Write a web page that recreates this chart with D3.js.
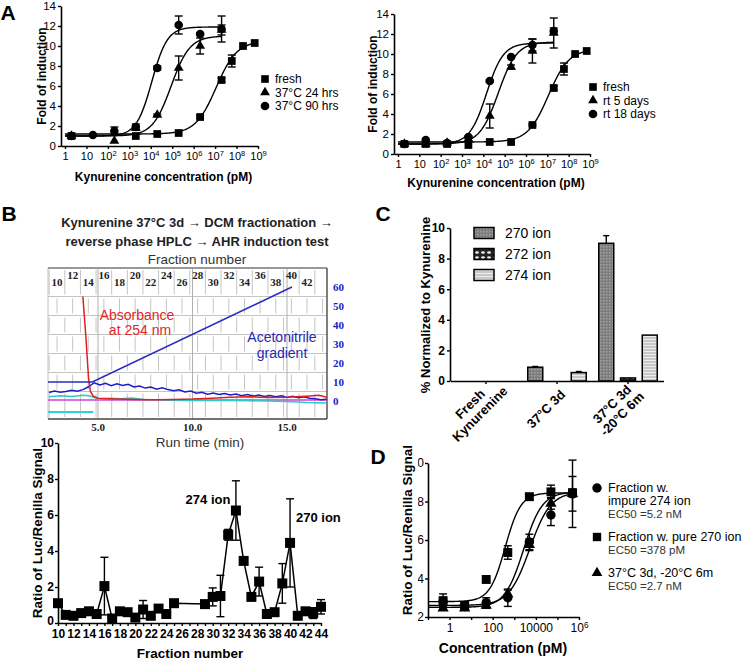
<!DOCTYPE html>
<html><head><meta charset="utf-8">
<script src="https://cdnjs.cloudflare.com/ajax/libs/d3/7.8.5/d3.min.js"></script>
<style>
body{margin:0;background:#fff;}
svg{display:block;}
</style></head>
<body><svg id="chart" width="745" height="659"></svg>
<script>
// ====================== DATA ======================
// Panel A – tick values
const aXTicks = [1, 10, 1e2, 1e3, 1e4, 1e5, 1e6, 1e7, 1e8, 1e9];
const aYTicks = [0, 2, 4, 6, 8, 10, 12, 14];
// Panel A left (37 °C)
const aLLegend = ["fresh", "37°C 24 hrs", "37°C 90 hrs"];
const aLFreshX = [2, 2e3, 2e4, 2e5, 2e6, 2e7, 6e7, 2e8, 7e8];
const aLFreshY = [1.0, 1.0, 1.2, 1.3, 2.9, 6.6, 8.5, 10.0, 10.3];
const aLFreshE = [0, 0, 0, 0, 0.15, 0.2, 0.6, 0, 0];
const aLH24X = [2, 200, 2e3, 2e4, 2e5, 2e6, 2e7];
const aLH24Y = [1.0, 0.5, 1.8, 3.1, 7.8, 10.0, 11.6];
const aLH24E = [0, 0, 0.2, 0.1, 1.2, 0.8, 0.5];
const aLH90X = [2, 20, 200, 2e3, 2e4, 2e5, 2e6, 2e7];
const aLH90Y = [1.0, 1.1, 1.5, 1.9, 7.8, 12.1, 11.2, 11.7];
const aLH90E = [0, 0, 0.4, 0.3, 0.2, 0.9, 0.1, 1.3];
// fit parameters: bottom, top, logEC50, hill
const aLFreshFit = [1.2, 10.5, 7.05, 0.9];
const aLH24Fit = [1.0, 11.0, 4.95, 1.0];
const aLH90Fit = [1.0, 11.9, 4.05, 1.2];
// Panel A right (room temperature)
const aRLegend = ["fresh", "rt 5 days", "rt 18 days"];
const aRFreshX = [2, 20, 200, 2e3, 2e4, 2e5, 2e6, 2e7, 6e7, 2e8, 7e8];
const aRFreshY = [1.0, 1.0, 1.0, 0.9, 1.2, 1.2, 2.9, 6.6, 8.5, 10.0, 10.3];
const aRFreshE = [0, 0, 0, 0, 0, 0, 0.1, 0.2, 0.6, 0, 0];
const aRD5X = [2, 20, 200, 2e3, 2e4, 2e5, 2e6, 2e7];
const aRD5Y = [1.0, 1.0, 1.1, 1.5, 3.8, 8.7, 10.3, 12.1];
const aRD5E = [0, 0, 0.1, 0.2, 1.2, 0.2, 1.2, 1.5];
const aRD18X = [2, 20, 200, 2e3, 2e4, 2e5, 2e6, 2e7];
const aRD18Y = [1.0, 1.4, 1.1, 1.7, 7.3, 9.7, 10.9, 12.3];
const aRD18E = [0, 0, 0, 0.1, 0.1, 0.1, 0.6, 0.3];
const aRFreshFit = [1.2, 10.5, 7.05, 0.9];
const aRD5Fit = [1.0, 11.2, 4.7, 1.0];
const aRD18Fit = [1.0, 11.1, 4.15, 1.1];

// Panel B top – HPLC trace (time in min, signal in % acetonitrile units)
const hplcFractions = [10, 12, 14, 16, 18, 20, 22, 24, 26, 28, 30, 32, 34, 36, 38, 40, 42];
const hplcRightTicks = [0, 10, 20, 30, 40, 50, 60];
const hplcTimeTicks = [5, 10, 15];
const gradT = [2.35, 4.7, 15.26];
const gradV = [10, 10, 60];
const absT = [4.2, 4.35, 4.5, 4.6, 4.75, 5.0, 5.5, 6.0, 7.0, 8.0, 9.0, 10.0, 11.0, 12.0, 13.0, 14.0, 15.0, 16.0, 16.7, 17.1];
const absV = [55, 35, 12, 5, 2.5, 1.5, 1.2, 1.0, 0.8, 0.6, 0.8, 1.0, 1.5, 2.0, 2.2, 1.8, 2.0, 2.5, 3.0, 2.0];
const blueT = [2.4,2.7,3.0,3.3,3.6,3.9,4.2,4.5,4.8,5.1,5.4,5.7,6.0,6.3,6.6,6.9,7.2,7.5,7.8,8.1,8.4,8.7,9.0,9.3,9.6,9.9,10.2,10.5,10.8,11.1,11.4,11.7,12.0,12.3,12.6,12.9,13.2,13.5,13.8,14.1,14.4,14.7,15.0,15.3,15.6,15.9,16.2,16.5,16.8,17.1];
const blueV = [4.5,5.2,4.6,5.0,5.6,5.1,6.0,7.5,9.6,8.4,9.3,8.1,9.0,8.2,8.8,7.4,7.9,6.8,7.3,6.2,6.9,6.0,5.4,5.9,4.8,5.2,4.1,4.6,3.6,4.2,3.4,3.9,3.2,3.7,2.8,3.4,2.6,3.1,2.4,2.9,2.2,2.7,1.9,2.5,1.7,2.2,1.5,1.2,0.6,0.9];
const cyanT = [2.4,3.0,3.6,4.2,4.6,5.0,5.6,6.2,6.8,7.4,8.0,9,10,11,12,13,14,15,16,17.1];
const cyanV = [2.2,2.8,2.4,3.0,2.6,1.0,1.5,1.2,1.6,0.8,0.6,0.4,0.3,0.3,0.2,0.1,0,-0.3,-0.8,-1.0];
const magT = [2.35, 17.1];
const magV = [0.5, 0.5];
const cyanBarT = [2.35, 4.75];
const cyanBarV = [-5.8, -5.8];

// Panel B bottom – AHR induction per fraction
const bFrac = [10,11,12,13,14,15,16,17,18,19,20,21,22,23,24,25,29,30,31,32,33,34,35,36,37,38,39,40,41,42,43,44];
const bVal  = [1.1,0.45,0.4,0.55,0.65,0.5,2.05,0.25,0.65,0.6,0.3,0.75,0.4,0.8,0.5,1.1,1.05,1.45,1.5,4.9,6.25,3.45,1.45,2.3,0.5,0.6,2.2,4.45,0.4,0.65,0.55,0.9];
const bErr  = [0,0,0,0,0,0,1.6,0,0,0,0,0.5,0,0,0,0,0,0.5,1.15,0.3,1.65,0,0,0.8,0,0,1.1,2.45,0,0.2,0.3,0.4];
const bYTicks = [0, 2, 4, 6, 8, 10];

// Panel C – ions normalized to kynurenine
const cCats = ["Fresh Kynurenine", "37°C 3d", "37°C 3d, -20°C 6m"];
const cCatLines = [["Fresh", "Kynurenine"], ["37°C 3d"], ["37°C 3d", "-20°C 6m"]];
const cIons = ["270 ion", "272 ion", "274 ion"];
const c270 = [0, 0.9, 9.0];
const c270E = [0, 0.05, 0.5];
const c272 = [0, 0, 0.2];
const c272E = [0, 0, 0];
const c274 = [0, 0.55, 3.0];
const c274E = [0, 0.07, 0];
const cYTicks = [0, 2, 4, 6, 8, 10];

// Panel D – dose response of fractions
const dX = [0.5, 5, 50, 500, 5000, 50000, 500000];
const dImpY = [2.8, 2.55, 2.75, 3.0, 5.9, 7.3, 8.4];
const dImpE = [0.4, 0.1, 0.25, 0.45, 0.4, 0.55, 1.75];
const dPureY = [2.85, 2.6, 3.95, 5.35, 8.25, 8.5, 8.45];
const dPureE = [0.15, 0.1, 0, 0.35, 0.15, 0.35, 0.2];
const dMixY = [2.45, 2.45, 2.6, 3.2, 5.75, 7.9, 8.4];
const dMixE = [0.1, 0.1, 0.15, 0.2, 0.3, 0.3, 0.9];
const dImpFit = [2.6, 8.5, 3.72, 0.9];
const dPureFit = [2.8, 8.45, 2.58, 1.2];
const dMixFit = [2.5, 8.5, 3.43, 1.0];
const dXTicks = [1, 100, 10000, 1e6];
const dXMinor = [0.1, 10, 1000, 100000];
const dYTicks = [2, 4, 6, 8, 10];
const dLegend = [
  ["Fraction w.", "impure 274 ion", "EC50 =5.2 nM"],
  ["Fraction w. pure 270 ion", "EC50 =378 pM"],
  ["37°C 3d, -20°C 6m", "EC50 =2.7 nM"]
];

// ====================== HELPERS ======================
const FONT = "'Liberation Sans', Arial, Helvetica, sans-serif";
const SERIF = "'Liberation Serif', 'Times New Roman', serif";
const svg = d3.select("#chart").attr("font-family", FONT);

function styleAxis(g, fs, fw) {
  g.select(".domain").attr("stroke", "#000").attr("stroke-width", 1.6);
  g.selectAll(".tick line").attr("stroke", "#000").attr("stroke-width", 1.4);
  g.selectAll(".tick text").attr("font-size", fs).attr("font-weight", fw || "normal")
    .attr("font-family", FONT).attr("fill", "#000");
}
function supTicks(g) {
  g.selectAll(".tick text").each(function (d) {
    const e = Math.round(Math.log10(d));
    const t = d3.select(this);
    if (e < 2) { t.text(e === 0 ? "1" : "10"); return; }
    t.text(null);
    t.append("tspan").text("10");
    t.append("tspan").attr("dy", "-0.45em").attr("font-size", "0.68em").text(e);
  });
}
function label(x, y, txt, opt, parent) {
  opt = opt || {};
  const t = (parent || svg).append("text").attr("x", x).attr("y", y).text(txt)
    .attr("font-size", opt.fs || 12).attr("font-weight", opt.fw || "normal")
    .attr("text-anchor", opt.anchor || "middle").attr("dominant-baseline", "central")
    .attr("fill", opt.fill || "#000").attr("font-family", opt.ff || FONT);
  if (opt.rot) t.attr("transform", `rotate(${opt.rot},${x},${y})`);
  return t;
}
function errBars(g, xs, ys, es, x, y, cap) {
  xs.forEach((xv, i) => {
    if (!(es[i] > 0)) return;
    const X = x(xv), y1 = y(ys[i] - es[i]), y2 = y(ys[i] + es[i]);
    g.append("line").attr("x1", X).attr("x2", X).attr("y1", y1).attr("y2", y2).attr("stroke", "#000").attr("stroke-width", 1.4);
    [y1, y2].forEach(yy => g.append("line").attr("x1", X - cap).attr("x2", X + cap).attr("y1", yy).attr("y2", yy).attr("stroke", "#000").attr("stroke-width", 1.4));
  });
}
function markers(g, xs, ys, x, y, type, size) {
  g.selectAll(null).data(xs.map((v, i) => [v, ys[i]])).join("path")
    .attr("d", d3.symbol().type(type).size(size)())
    .attr("transform", d => `translate(${x(d[0])},${y(d[1])})`).attr("fill", "#000");
}
function fitCurve(g, p, x, y, x0, x1) {
  const f = v => p[0] + (p[1] - p[0]) / (1 + Math.pow(10, (p[2] - Math.log10(v)) * p[3]));
  const l0 = Math.log10(x0), l1 = Math.log10(x1);
  const pts = d3.range(0, 241).map(i => Math.pow(10, l0 + (l1 - l0) * i / 240));
  g.append("path").attr("d", d3.line().x(v => x(v)).y(v => y(f(v)))(pts))
    .attr("fill", "none").attr("stroke", "#000").attr("stroke-width", 1.4);
}

// ====================== PANEL LETTERS ======================
label(8, 12, "A", { fs: 21, fw: "bold" });
label(9, 213, "B", { fs: 21, fw: "bold" });
label(383, 213, "C", { fs: 21, fw: "bold" });
label(378, 456, "D", { fs: 21, fw: "bold" });

// ====================== PANEL A ======================
function panelA(o) {
  const g = svg.append("g");
  const x = d3.scaleLog().domain([0.65, 1e9]).range([o.x0, o.x1]);
  const y = d3.scaleLinear().domain([0, 14]).range([o.yb, o.yt]);
  const gx = g.append("g").attr("transform", `translate(0,${o.yb})`)
    .call(d3.axisBottom(x).tickValues(aXTicks).tickSize(3).tickPadding(3).tickSizeOuter(0));
  styleAxis(gx, 11); supTicks(gx);
  const gy = g.append("g").attr("transform", `translate(${o.x0},0)`)
    .call(d3.axisLeft(y).tickValues(aYTicks).tickSize(3).tickPadding(2).tickSizeOuter(0));
  styleAxis(gy, 11.5);
  fitCurve(g, o.fit[0], x, y, 1, 7e8);
  fitCurve(g, o.fit[1], x, y, 1, 2e7);
  fitCurve(g, o.fit[2], x, y, 1, 2e7);
  errBars(g, o.s[0][0], o.s[0][1], o.s[0][2], x, y, 4);
  errBars(g, o.s[1][0], o.s[1][1], o.s[1][2], x, y, 4);
  errBars(g, o.s[2][0], o.s[2][1], o.s[2][2], x, y, 4);
  markers(g, o.s[0][0], o.s[0][1], x, y, d3.symbolSquare, 60);
  markers(g, o.s[1][0], o.s[1][1], x, y, d3.symbolTriangle, 42);
  markers(g, o.s[2][0], o.s[2][1], x, y, d3.symbolCircle, 58);
  label((o.x0 + o.x1) / 2 + 4, o.xt, "Kynurenine concentration (pM)", { fs: 12, fw: "bold" });
  label(o.yTitleX, (o.yb + o.yt) / 2, "Fold of induction", { fs: 12, fw: "bold", rot: -90 });
  const types = [d3.symbolSquare, d3.symbolTriangle, d3.symbolCircle];
  o.legend.forEach((t, i) => {
    const ly = o.ly + i * 13.5;
    g.append("path").attr("d", d3.symbol().type(types[i]).size(i === 1 ? 42 : 58)())
      .attr("transform", `translate(${o.lx},${ly})`).attr("fill", "#000");
    label(o.lx + 10, ly, t, { fs: 12, anchor: "start" });
  });
}
panelA({ x0: 61, x1: 258, yb: 146, yt: 6, xt: 177, yTitleX: 42, lx: 265, ly: 79,
  legend: aLLegend, fit: [aLFreshFit, aLH24Fit, aLH90Fit],
  s: [[aLFreshX, aLFreshY, aLFreshE], [aLH24X, aLH24Y, aLH24E], [aLH90X, aLH90Y, aLH90E]] });
panelA({ x0: 394, x1: 590, yb: 154, yt: 14, xt: 183, yTitleX: 373, lx: 593, ly: 87,
  legend: aRLegend, fit: [aRFreshFit, aRD5Fit, aRD18Fit],
  s: [[aRFreshX, aRFreshY, aRFreshE], [aRD5X, aRD5Y, aRD5E], [aRD18X, aRD18Y, aRD18E]] });

// ====================== PANEL B (top) HPLC ======================
label(197, 222, "Kynurenine 37°C 3d \u2192 DCM fractionation \u2192", { fs: 13, fw: "bold", fill: "#222" });
label(197, 241, "reverse phase  HPLC \u2192 AHR induction test", { fs: 13, fw: "bold", fill: "#222" });
label(197, 259, "Fraction number", { fs: 13.5, fill: "#333" });
label(200, 442, "Run time (min)", { fs: 13.5, fill: "#333" });
(function () {
  const L = 48, R = 327, T = 268, B = 419;
  const xT = d3.scaleLinear().domain([5, 15]).range([98, 287]);
  const xF = d3.scaleLinear().domain([10, 42]).range([57, 307]);
  const yH = d3.scaleLinear().domain([0, 60]).range([401, 287]);
  const g = svg.append("g");
  const hLines = [55, 45, 35, 25, 15, 5].map(v => yH(v));
  const bands = [T].concat(hLines).concat([B]);
  hLines.forEach(yy => g.append("line").attr("x1", L).attr("x2", R).attr("y1", yy).attr("y2", yy).attr("stroke", "#c4c4c4").attr("stroke-width", 1));
  for (let i = 0; i < bands.length - 1; i++) {
    for (let f = 9 + (i % 2); f <= 45; f += 2) {
      const X = xF(f);
      if (X <= L + 1 || X >= R - 1) continue;
      g.append("line").attr("x1", X).attr("x2", X).attr("y1", bands[i] + 2).attr("y2", bands[i + 1] - 2).attr("stroke", "#c4c4c4").attr("stroke-width", 1);
    }
  }
  hplcTimeTicks.forEach(t => g.append("line").attr("x1", xT(t)).attr("x2", xT(t)).attr("y1", T).attr("y2", B).attr("stroke", "#b0b0b0").attr("stroke-width", 1));
  g.append("line").attr("x1", L).attr("x2", L).attr("y1", T).attr("y2", B).attr("stroke", "#c0c0c0");
  g.append("line").attr("x1", L).attr("x2", R).attr("y1", T).attr("y2", T).attr("stroke", "#999").attr("stroke-width", 2);
  g.append("line").attr("x1", R).attr("x2", R).attr("y1", T).attr("y2", B).attr("stroke", "#555").attr("stroke-width", 1.5);
  g.append("line").attr("x1", L).attr("x2", R).attr("y1", B).attr("y2", B).attr("stroke", "#444").attr("stroke-width", 1.5);
  hplcFractions.forEach((f, i) => {
    label(xF(f), i % 2 === 0 ? 282 : 275, String(f), { fs: 11, fw: "bold", ff: SERIF, fill: "#222" });
  });
  hplcRightTicks.forEach(v => label(333, yH(v), String(v), { fs: 11, fw: "bold", ff: SERIF, fill: "#2020c8", anchor: "start" }));
  hplcTimeTicks.forEach(t => label(xT(t), 427, t.toFixed(1), { fs: 11, fw: "bold", ff: SERIF, fill: "#222" }));
  g.append("clipPath").attr("id", "hclip").append("rect").attr("x", L).attr("y", T).attr("width", R - L).attr("height", B - T);
  const tr = g.append("g").attr("clip-path", "url(#hclip)");
  const line = d3.line().x(d => xT(d[0])).y(d => yH(d[1]));
  const z = (a, b) => a.map((v, i) => [v, b[i]]);
  tr.append("path").attr("d", line(z(magT, magV))).attr("stroke", "#d040d0").attr("stroke-width", 1.5).attr("fill", "none");
  tr.append("path").attr("d", line(z(cyanT, cyanV))).attr("stroke", "#30c8c8").attr("stroke-width", 1.5).attr("fill", "none");
  tr.append("path").attr("d", line(z(cyanBarT, cyanBarV))).attr("stroke", "#30d0e0").attr("stroke-width", 2).attr("fill", "none");
  tr.append("path").attr("d", line(z(blueT, blueV))).attr("stroke", "#1c1cc8").attr("stroke-width", 1.5).attr("fill", "none");
  tr.append("path").attr("d", line(z(absT, absV))).attr("stroke", "#e02020").attr("stroke-width", 1.5).attr("fill", "none");
  tr.append("path").attr("d", line(z(gradT, gradV))).attr("stroke", "#2a2ac0").attr("stroke-width", 1.5).attr("fill", "none");
  label(137, 315, "Absorbance", { fs: 14, fill: "#e02828" });
  label(140, 330, "at 254 nm", { fs: 14, fill: "#e02828" });
  label(282, 337, "Acetonitrile", { fs: 14, fill: "#2828b0" });
  label(282, 353, "gradient", { fs: 14, fill: "#2828b0" });
})();

// ====================== PANEL B (bottom) ======================
(function () {
  const g = svg.append("g");
  const x = d3.scaleLinear().domain([10, 44]).range([58, 321]);
  const y = d3.scaleLinear().domain([0, 10]).range([623, 443]);
  const gx = g.append("g").attr("transform", "translate(0,623)")
    .call(d3.axisBottom(x).tickValues(d3.range(10, 45)).tickSize(3).tickPadding(3.5).tickSizeOuter(0).tickFormat(d => d % 2 === 0 ? d : ""));
  styleAxis(gx, 12, "bold");
  const gy = g.append("g").attr("transform", "translate(58,0)")
    .call(d3.axisLeft(y).tickValues(bYTicks).tickSize(3).tickPadding(1).tickSizeOuter(0));
  styleAxis(gy, 12, "bold");
  gy.selectAll(".tick text").filter(d => d === 0).attr("dy", "0.15em");
  g.append("path").attr("d", d3.line().x(d => x(d[0])).y(d => y(d[1]))(bFrac.map((f, i) => [f, bVal[i]])))
    .attr("fill", "none").attr("stroke", "#000").attr("stroke-width", 1.5);
  errBars(g, bFrac, bVal, bErr, x, y, 4);
  markers(g, bFrac, bVal, x, y, d3.symbolSquare, 100);
  label(190, 653, "Fraction number", { fs: 13.5, fw: "bold" });
  label(37, 533, "Ratio of Luc/Renilla Signal", { fs: 13.5, fw: "bold", rot: -90 });
  label(208, 499, "274 ion", { fs: 13, fw: "bold" });
  label(296, 517, "270 ion", { fs: 13, fw: "bold", anchor: "start" });
})();

// ====================== PANEL C ======================
(function () {
  const g = svg.append("g");
  const defs = svg.append("defs");
  const p1 = defs.append("pattern").attr("id", "p270").attr("width", 3).attr("height", 3).attr("patternUnits", "userSpaceOnUse");
  p1.append("rect").attr("width", 3).attr("height", 3).attr("fill", "#7c7c7c");
  p1.append("rect").attr("width", 1.5).attr("height", 1.5).attr("fill", "#a4a4a4");
  const p2 = defs.append("pattern").attr("id", "p272").attr("width", 6).attr("height", 5).attr("patternUnits", "userSpaceOnUse");
  p2.append("rect").attr("width", 6).attr("height", 5).attr("fill", "#222");
  p2.append("ellipse").attr("cx", 3).attr("cy", 2.5).attr("rx", 1.9).attr("ry", 1.3).attr("fill", "#eee");
  const p3 = defs.append("pattern").attr("id", "p274").attr("width", 4).attr("height", 3).attr("patternUnits", "userSpaceOnUse");
  p3.append("rect").attr("width", 4).attr("height", 3).attr("fill", "#c8c8c8");
  p3.append("rect").attr("width", 4).attr("height", 1).attr("fill", "#ececec");
  const fills = ["url(#p270)", "url(#p272)", "url(#p274)"];

  const x0 = d3.scaleBand().domain(cCats).range([450.5, 663.5]);
  const x1 = d3.scaleBand().domain(cIons).range([-29.25, 29.25]).paddingInner(0.31);
  const y = d3.scaleLinear().domain([0, 10]).range([381, 228]);
  const gy = g.append("g").attr("transform", "translate(450,0)")
    .call(d3.axisLeft(y).tickValues(cYTicks).tickSize(3).tickPadding(2).tickSizeOuter(0));
  styleAxis(gy, 12, "bold");
  const gx = g.append("g").attr("transform", "translate(0,381)")
    .call(d3.axisBottom(x0).tickSize(3).tickSizeOuter(0).tickFormat(""));
  styleAxis(gx, 12, "bold");
  const series = [[c270, c270E], [c272, c272E], [c274, c274E]];
  series.forEach((s, k) => {
    cCats.forEach((c, i) => {
      const v = s[0][i];
      if (!(v > 0)) return;
      const cx = x0(c) + x0.bandwidth() / 2 + x1(cIons[k]);
      g.append("rect").attr("x", cx).attr("y", y(v)).attr("width", x1.bandwidth()).attr("height", y(0) - y(v))
        .attr("fill", fills[k]).attr("stroke", "#000").attr("stroke-width", 1.5);
      if (s[1][i] > 0) {
        const X = cx + x1.bandwidth() / 2;
        g.append("line").attr("x1", X).attr("x2", X).attr("y1", y(v)).attr("y2", y(v + s[1][i])).attr("stroke", "#000").attr("stroke-width", 1.4);
        g.append("line").attr("x1", X - 3).attr("x2", X + 3).attr("y1", y(v + s[1][i])).attr("y2", y(v + s[1][i])).attr("stroke", "#000").attr("stroke-width", 1.4);
      }
    });
  });
  cCats.forEach((c, i) => {
    const cx = x0(c) + x0.bandwidth() / 2 - 11, cy = 409;
    const lines = cCatLines[i];
    const tg = g.append("g").attr("transform", `translate(${cx},${cy}) rotate(-45)`);
    lines.forEach((t, j) => {
      tg.append("text").attr("x", 0).attr("y", (j - (lines.length - 1) / 2) * 14)
        .attr("text-anchor", "middle").attr("dominant-baseline", "central")
        .attr("font-size", 13).attr("font-weight", "bold").text(t);
    });
  });
  cIons.forEach((t, k) => {
    const ly = 233 + k * 21;
    g.append("rect").attr("x", 474).attr("y", ly - 5.5).attr("width", 20).attr("height", 11)
      .attr("fill", fills[k]).attr("stroke", "#000").attr("stroke-width", 1.5);
    label(505, ly, t, { fs: 14, anchor: "start" });
  });
  label(425, 305, "% Normalized to Kynurenine", { fs: 13, fw: "bold", rot: -90 });
})();

// ====================== PANEL D ======================
(function () {
  const g = svg.append("g");
  const x = d3.scaleLog().domain([0.1, 1e6]).range([428, 579]);
  const y = d3.scaleLinear().domain([2, 10]).range([617, 463]);
  svg.append("clipPath").attr("id", "dclip").append("rect").attr("x", 418).attr("y", 440).attr("width", 40).attr("height", 200);
  const gx = g.append("g").attr("transform", "translate(0,617)")
    .call(d3.axisBottom(x).tickValues(dXTicks.concat(dXMinor)).tickSize(3).tickPadding(3).tickSizeOuter(0)
      .tickFormat(d => dXTicks.includes(d) ? (d < 1e6 ? String(d) : "") : ""));
  styleAxis(gx, 12);
  gx.selectAll(".tick text").filter(d => d === 1e6).each(function () {
    const t = d3.select(this);
    t.append("tspan").text("10");
    t.append("tspan").attr("dy", "-0.45em").attr("font-size", "0.68em").text("6");
  });
  const gy = g.append("g").attr("transform", "translate(428,0)")
    .call(d3.axisLeft(y).tickValues(dYTicks).tickSize(3).tickSizeOuter(0).tickFormat(""));
  styleAxis(gy, 12);
  const clipG = svg.append("g").attr("clip-path", "url(#dclip)");
  dYTicks.forEach(v => label(424, y(v), String(v), { fs: 12, anchor: "end" }, clipG));

  fitCurve(g, dImpFit, x, y, 0.1, 5e5);
  fitCurve(g, dPureFit, x, y, 0.1, 5e5);
  fitCurve(g, dMixFit, x, y, 0.1, 5e5);
  errBars(g, dX, dImpY, dImpE, x, y, 4);
  errBars(g, dX, dPureY, dPureE, x, y, 4);
  errBars(g, dX, dMixY, dMixE, x, y, 4);
  markers(g, dX, dMixY, x, y, d3.symbolTriangle, 55);
  markers(g, dX, dImpY, x, y, d3.symbolCircle, 70);
  markers(g, dX, dPureY, x, y, d3.symbolSquare, 80);
  label(503, 648, "Concentration (pM)", { fs: 14, fw: "bold" });
  label(407, 530, "Ratio of Luc/Renilla Signal", { fs: 13.5, fw: "bold", rot: -90 });
  const types = [d3.symbolCircle, d3.symbolSquare, d3.symbolTriangle];
  const sizes = [70, 70, 50];
  const rowY = [488, 537, 573];
  dLegend.forEach((lines, i) => {
    g.append("path").attr("d", d3.symbol().type(types[i]).size(sizes[i])())
      .attr("transform", `translate(597,${rowY[i]})`).attr("fill", "#000");
    lines.forEach((t, j) => {
      const isEC = t.startsWith("EC50");
      label(608, rowY[i] + j * 13, t, { fs: isEC ? 11.5 : 12.5, anchor: "start", fill: isEC ? "#333" : "#000" });
    });
  });
})();
</script></body></html>
